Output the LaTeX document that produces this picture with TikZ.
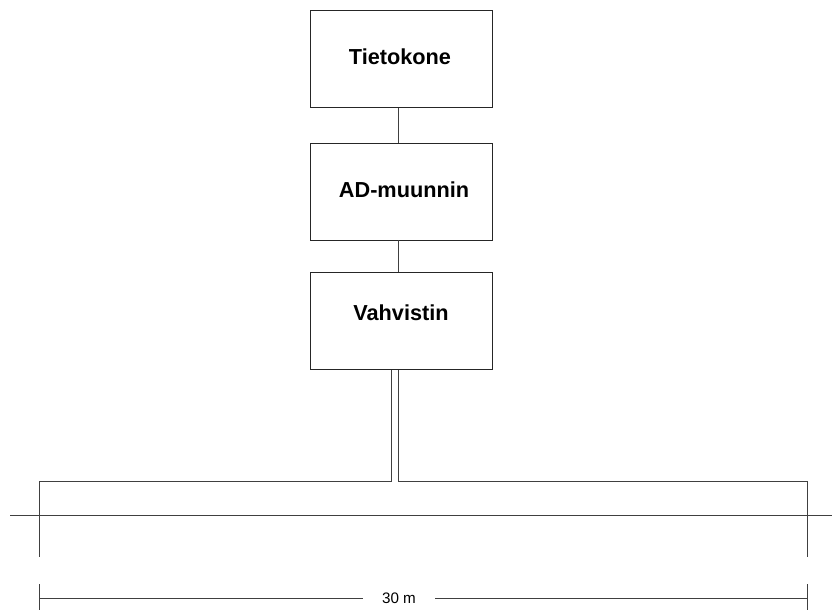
\documentclass[tikz,border=0pt]{standalone}
\usepackage{fontspec}
\setmainfont{Liberation Sans}
\begin{document}
\begin{tikzpicture}[x=1pt,y=-1pt,
  boxst/.style={draw=black!85,line width=0.9pt,minimum width=182pt,minimum height=97pt,inner sep=0pt},
  lbl/.style={font=\fontsize{21.7}{24}\selectfont\bfseries},
  wire/.style={draw=black!75,line width=0.9pt},
  dimtext/.style={font=\fontsize{15.2}{17}\selectfont,fill=white,minimum width=72pt,inner sep=0pt,minimum height=12pt}]
\useasboundingbox (0,0) rectangle (832,610);
\node[boxst] (b1) at (401.5,59) {};
\node[boxst] (b2) at (401.5,191.5) {};
\node[boxst] (b3) at (401.5,321) {};
\node[lbl] (t1) at (400,57) {Tietokone};
\node[lbl] (t2) at (404,190) {AD-muunnin};
\node[lbl] (t3) at (401,313) {Vahvistin};
\draw[wire] (b1.south -| 398,0) -- (b2.north -| 398,0);
\draw[wire] (b2.south -| 398,0) -- (b3.north -| 398,0);
\coordinate (la) at (391,481);
\coordinate (lb) at (39,481);
\coordinate (lc) at (39,557);
\coordinate (ra) at (398,481);
\coordinate (rb) at (807,481);
\coordinate (rc) at (807,557);
\draw[wire] (b3.south -| la) -- (la) -- (lb) -- (lc);
\draw[wire] (b3.south -| ra) -- (ra) -- (rb) -- (rc);
\coordinate (h1) at (10,515);
\coordinate (h2) at (832,515);
\draw[wire] (h1) -- (h2);
\coordinate (d1t) at (39,584);
\coordinate (d1b) at (39,610);
\coordinate (d2t) at (807,584);
\coordinate (d2b) at (807,610);
\draw[wire] (d1t) -- (d1b);
\draw[wire] (d2t) -- (d2b);
\coordinate (m1) at (39,598);
\coordinate (m2) at (807,598);
\draw[wire] (m1) -- (m2);
\node[dimtext] (dim) at (399,598) {30 m};
\end{tikzpicture}
\end{document}
